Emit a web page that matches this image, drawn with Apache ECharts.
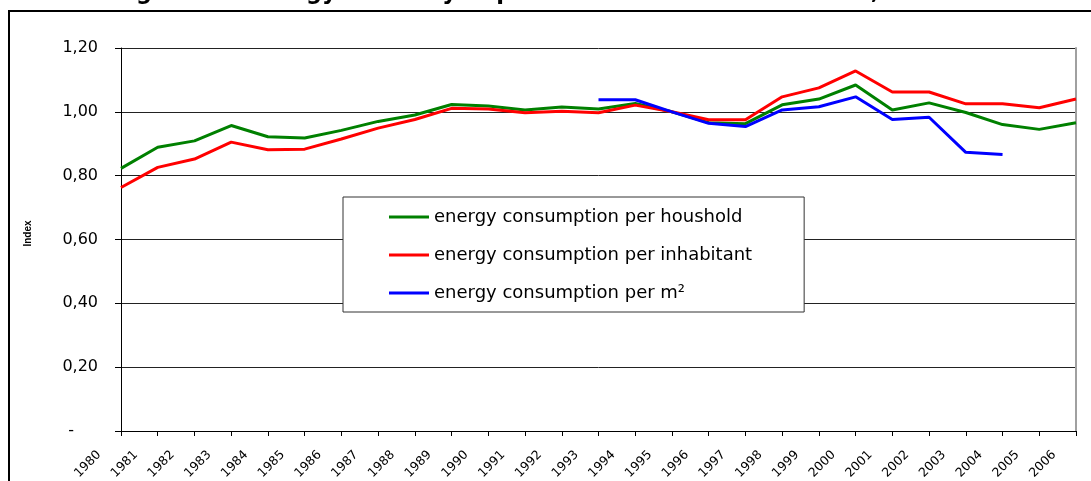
<!DOCTYPE html>
<html>
<head>
<meta charset="utf-8">
<script src="https://cdn.jsdelivr.net/npm/echarts@6/dist/echarts.min.js"></script>
<style>
html,body{margin:0;padding:0;background:#fff;}
#chart{width:1091px;height:481px;}
</style>
</head>
<body>
<div id="chart"></div>
<script>
const titleText = 'Figure 4c: Energy intensity in private households in Austria, 1980-2006';
const yAxisName = 'Index';
const years = ['1980','1981','1982','1983','1984','1985','1986','1987','1988','1989',
               '1990','1991','1992','1993','1994','1995','1996','1997','1998','1999',
               '2000','2001','2002','2003','2004','2005','2006'];
const seriesNames = ['energy consumption per houshold', 'energy consumption per inhabitant', 'energy consumption per m²'];
const perHousehold = [0.823, 0.889, 0.909, 0.957, 0.922, 0.918, 0.942, 0.970, 0.990, 1.023,
                      1.018, 1.006, 1.015, 1.009, 1.026, 1.000, 0.966, 0.963, 1.022, 1.040,
                      1.084, 1.006, 1.028, 0.998, 0.960, 0.945, 0.966];
const perInhabitant = [0.763, 0.826, 0.852, 0.905, 0.881, 0.883, 0.915, 0.949, 0.976, 1.011,
                       1.009, 0.997, 1.002, 0.997, 1.021, 1.000, 0.975, 0.975, 1.047, 1.075,
                       1.128, 1.062, 1.062, 1.025, 1.025, 1.013, 1.040];
const perSquareMetre = [null, null, null, null, null, null, null, null, null, null,
                        null, null, null, 1.038, 1.038, 1.000, 0.964, 0.954, 1.006, 1.016,
                        1.047, 0.976, 0.983, 0.873, 0.866, null, null];
const yTickLabels = ['-', '0,20', '0,40', '0,60', '0,80', '1,00', '1,20'];
const seriesColors = ['#008000', '#FF0000', '#0000FF'];

const chart = echarts.init(document.getElementById('chart'), null, {renderer: 'canvas'});
const FONT = 'DejaVu Sans';

function lineSeries(i, data) {
  return {
    name: seriesNames[i],
    type: 'line',
    data: data,
    showSymbol: false,
    symbol: 'none',
    connectNulls: false,
    lineStyle: {color: seriesColors[i], width: 3},
    itemStyle: {color: seriesColors[i]},
    emphasis: {disabled: true},
    z: 2 + i
  };
}

chart.setOption({
  animation: false,
  backgroundColor: '#ffffff',
  title: {
    text: titleText,
    left: 113,
    top: -18,
    padding: 0,
    textStyle: {fontFamily: FONT, fontWeight: 'bold', fontSize: 22.5, color: '#000'}
  },
  graphic: [{
    type: 'rect',
    shape: {x: 9, y: 11, width: 1200, height: 600},
    style: {fill: 'none', stroke: '#000', lineWidth: 2},
    silent: true,
    z: 0
  }],
  grid: {left: 121, right: 15, top: 48, bottom: 50, containLabel: false, outerBoundsMode: 'none'},
  legend: {
    orient: 'vertical',
    left: 343,
    top: 197,
    padding: [11, 52, 10, 46],
    itemGap: 20,
    itemWidth: 40,
    itemHeight: 3,
    icon: 'rect',
    backgroundColor: '#fff',
    borderColor: '#333',
    borderWidth: 1,
    borderRadius: 0,
    selectedMode: false,
    textStyle: {fontFamily: FONT, fontSize: 18, color: '#000', lineHeight: 18},
    data: seriesNames,
    z: 10
  },
  xAxis: {
    type: 'category',
    data: years,
    boundaryGap: false,
    axisLine: {show: true, lineStyle: {color: '#000', width: 1}},
    axisTick: {show: true, length: 5, interval: 0, lineStyle: {color: '#000'}},
    axisLabel: {
      interval: 0,
      rotate: 45,
      margin: 0,
      padding: [0, 31, 12, 0],
      fontFamily: FONT,
      fontSize: 12.5,
      color: '#000'
    },
    splitLine: {show: false}
  },
  yAxis: [{
    type: 'value',
    min: 0,
    max: 1.2,
    interval: 0.2,
    name: yAxisName,
    nameLocation: 'middle',
    nameGap: 88,
    nameRotate: 90,
    nameTextStyle: {fontFamily: 'Liberation Sans', fontWeight: 'bold', fontSize: 10, color: '#000', padding: [0, 0, 0, 12]},
    axisLine: {show: true, lineStyle: {color: '#000', width: 1}},
    axisTick: {show: true, length: 6, lineStyle: {color: '#000'}},
    axisLabel: {
      margin: 23,
      fontFamily: FONT,
      fontSize: 16,
      color: '#000',
      formatter: function (v) {
        const i = Math.round(v / 0.2);
        return i === 0 ? '{dash|' + yTickLabels[0] + '}' : yTickLabels[i];
      },
      rich: {dash: {fontFamily: FONT, fontSize: 16, color: '#000', padding: [0, 24, 0, 0]}}
    },
    splitLine: {show: true, lineStyle: {color: '#222', width: 1}}
  }, {
    type: 'value',
    position: 'right',
    min: 0,
    max: 1.2,
    interval: 0.2,
    axisLine: {show: true, lineStyle: {color: '#a0a0a0', width: 2}},
    axisTick: {show: false},
    axisLabel: {show: false},
    splitLine: {show: false}
  }],
  series: [
    lineSeries(0, perHousehold),
    lineSeries(1, perInhabitant),
    lineSeries(2, perSquareMetre)
  ]
});
</script>
</body>
</html>
